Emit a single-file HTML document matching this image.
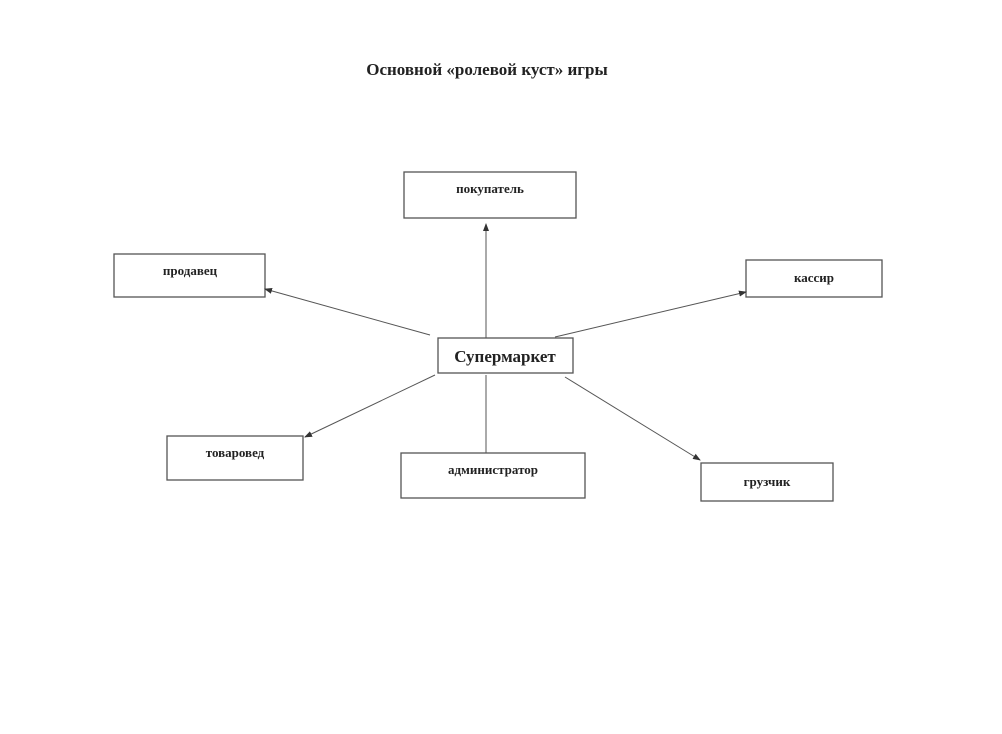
<!DOCTYPE html>
<html><head><meta charset="utf-8"><style>
body{margin:0;background:#fff;width:1002px;height:729px;overflow:hidden;}
svg text{font-family:"Liberation Serif",serif;font-weight:bold;fill:#222;}
</style></head><body>
<svg width="1002" height="729" viewBox="0 0 1002 729">
<defs><marker id="a" markerWidth="8" markerHeight="8" refX="7" refY="4" orient="auto" markerUnits="userSpaceOnUse"><path d="M0,1 L8,4 L0,7 z" fill="#333"/></marker></defs>
<text x="487" y="75" font-size="17" text-anchor="middle">Основной «ролевой куст» игры</text>
<g fill="none" stroke="#555" stroke-width="1.3">
<rect x="404" y="172" width="172" height="46"/>
<rect x="114" y="254" width="151" height="43"/>
<rect x="746" y="260" width="136" height="37"/>
<rect x="438" y="338" width="135" height="35"/>
<rect x="167" y="436" width="136" height="44"/>
<rect x="401" y="453" width="184" height="45"/>
<rect x="701" y="463" width="132" height="38"/>
</g>
<g stroke="#555" stroke-width="1">
<line x1="486" y1="338" x2="486" y2="224" marker-end="url(#a)"/>
<line x1="430" y1="335" x2="265" y2="289" marker-end="url(#a)"/>
<line x1="555" y1="337" x2="746" y2="292" marker-end="url(#a)"/>
<line x1="435" y1="375" x2="305" y2="437" marker-end="url(#a)"/>
<line x1="486" y1="375" x2="486" y2="453"/>
<line x1="565" y1="377" x2="700" y2="460" marker-end="url(#a)"/>
</g>
<g font-size="13" text-anchor="middle">
<text x="490" y="193">покупатель</text>
<text x="190" y="275">продавец</text>
<text x="814" y="282">кассир</text>
<text x="235" y="457">товаровед</text>
<text x="493" y="474">администратор</text>
<text x="767" y="486">грузчик</text>
</g>
<text x="505" y="362" font-size="17" text-anchor="middle">Супермаркет</text>
</svg>
</body></html>
